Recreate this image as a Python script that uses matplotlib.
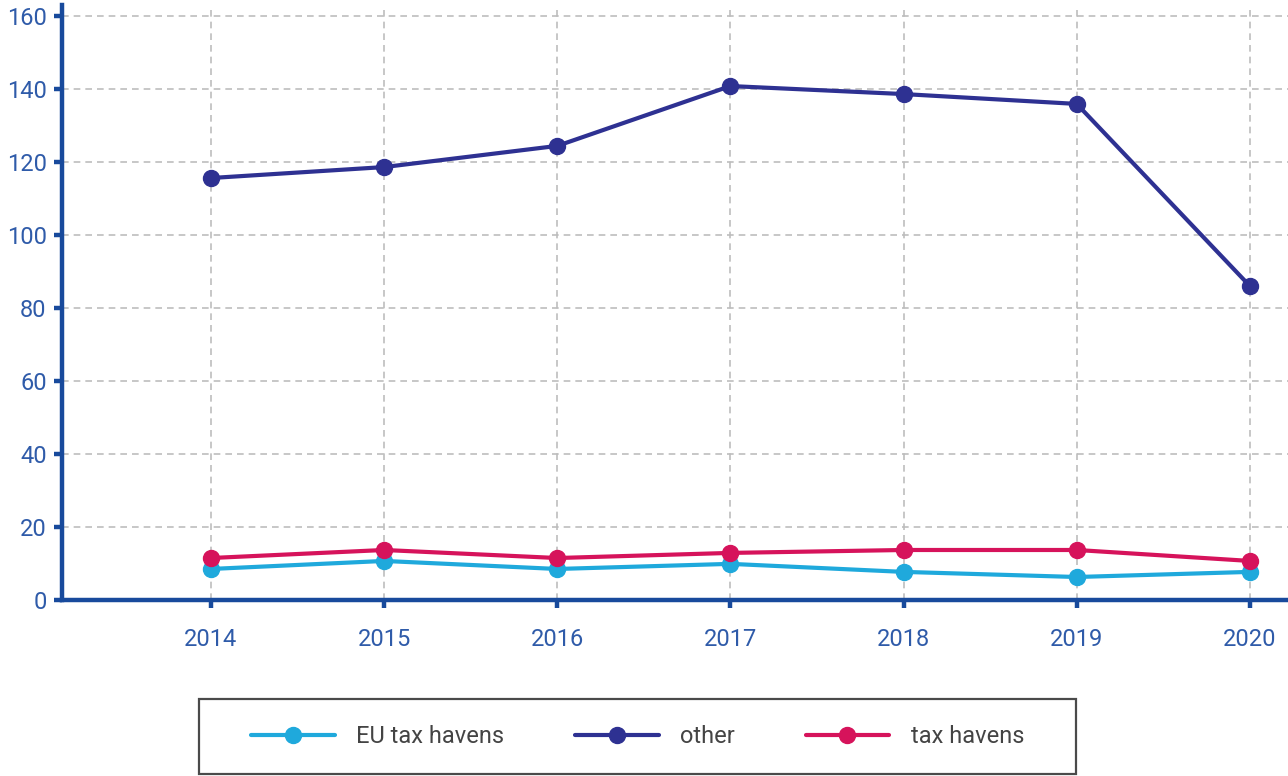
import matplotlib
matplotlib.use("Agg")
import matplotlib.pyplot as plt
from matplotlib.patches import Rectangle

years = [2014, 2015, 2016, 2017, 2018, 2019, 2020]
eu_tax_havens = [8.5, 10.7, 8.5, 9.9, 7.7, 6.3, 7.7]
other = [115.6, 118.6, 124.4, 140.8, 138.6, 135.9, 86.0]
tax_havens = [11.5, 13.7, 11.5, 12.9, 13.7, 13.7, 10.7]
series_names = ["EU tax havens", "other", "tax havens"]
yticks = [0, 20, 40, 60, 80, 100, 120, 140, 160]

colors = ["#1fa9dc", "#2e3192", "#d6135b"]
axis_color = "#184a9c"
label_color = "#2f5ba9"

plt.rcParams['font.family'] = ['Roboto', 'DejaVu Sans']

W, H = 1288, 776
fig = plt.figure(figsize=(W / 100, H / 100), dpi=100)
ax = fig.add_axes([62 / W, 1 - 600 / H, 1 - 62 / W, (600 - 5) / H])

for name, vals, c in zip(series_names, [eu_tax_havens, other, tax_havens], colors):
    ax.plot(years, vals, color=c, lw=3, marker='o', markersize=11.5,
            label=name, solid_capstyle='round', zorder=3, clip_on=False)

ax.set_xlim(2013.14, 2020.22)
ax.set_ylim(0, 163)
ax.set_xticks(years)
ax.set_xticklabels([str(y) for y in years])
ax.set_yticks(yticks)

ax.grid(True, color="#bdbdbd", linestyle=(0, (4, 3)), linewidth=1.2)
ax.set_axisbelow(True)

for s in ['top', 'right']:
    ax.spines[s].set_visible(False)
for s in ['left', 'bottom']:
    ax.spines[s].set_color(axis_color)
    ax.spines[s].set_linewidth(3.2)

ax.tick_params(axis='both', colors=axis_color, width=3.2, length=6,
               labelcolor=label_color, labelsize=17)
ax.tick_params(axis='x', pad=14)
ax.tick_params(axis='y', pad=5)

# legend frame drawn as a figure rectangle
fig.patches.append(Rectangle((199 / W, 1 - 774 / H), (1076 - 199) / W, 75 / H,
                             transform=fig.transFigure, fill=False,
                             edgecolor="#4a4a4a", linewidth=1.6))

leg = fig.legend(loc='center', bbox_to_anchor=(637.5 / W, 1 - 736.5 / H),
                 ncol=3, frameon=False, fontsize=17,
                 handlelength=3.55, handletextpad=0.9, columnspacing=3.0,
                 borderpad=0.5, borderaxespad=0)
for t in leg.get_texts():
    t.set_color("#444444")

fig.savefig("out.png", dpi=100)
